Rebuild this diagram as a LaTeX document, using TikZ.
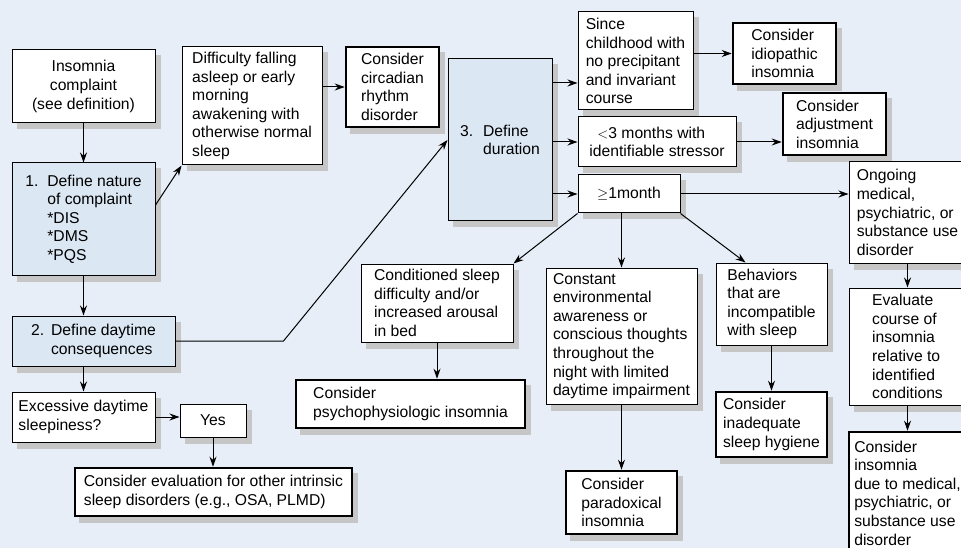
\documentclass[tikz,border=0pt]{standalone}
\usepackage{fontspec}
\setmainfont{Liberation Sans}
\usetikzlibrary{arrows.meta}
\definecolor{bgblue}{RGB}{232,238,247}
\definecolor{stepblue}{RGB}{220,231,244}
\definecolor{shadowgray}{RGB}{198,198,198}
\pgfdeclarelayer{bg}
\pgfsetlayers{bg,main}
\begin{document}
\begin{tikzpicture}[x=1pt,y=-1pt,
  box/.style={draw=black,fill=white,line width=1pt,align=left,inner sep=2pt,
    font=\fontsize{15.7}{18.6}\selectfont},
  boxB/.style={box,fill=stepblue},
  boxC/.style={box,line width=2.6pt},
  wh/.style 2 args={minimum width=#1pt,minimum height=#2pt},
  boxshadow/.style={fill=shadowgray},
  arr/.style={-{Stealth[length=10pt,width=7pt]},line width=1pt}]
\useasboundingbox (0,0) rectangle (961,548);

\node[box,wh={143}{73},align=center] (IC) at (83.5,86.5) {Insomnia\\complaint\\(see definition)};
\node[boxB,wh={143}{112}] (N1) at (83.5,219) {\makebox[22pt][l]{1.}Define nature\\\hspace*{22pt}of complaint\\\hspace*{22pt}*DIS\\\hspace*{22pt}*DMS\\\hspace*{22pt}*PQS};
\node[boxB,wh={163}{50}] (N2) at (93.5,341) {\makebox[20pt][l]{2.}Define daytime\\\hspace*{20pt}consequences};
\node[box,wh={143}{50}] (EDS) at (83.5,417) {Excessive daytime\\sleepiness?};
\node[box,wh={66}{33},align=center] (Y) at (213,420.5) {Yes};
\node[boxC,wh={277}{48}] (CE) at (213.5,492) {Consider evaluation for other intrinsic\\sleep disorders (e.g., OSA, PLMD)};

\node[box,wh={140}{118}] (DF) at (252,106) {Difficulty falling\\asleep or early\\morning\\awakening with\\otherwise normal\\sleep};
\node[boxC,wh={93}{80}] (CC) at (392.5,87) {Consider\\circadian\\rhythm\\disorder};

\node[boxB,wh={104}{162}] (N3) at (500,140) {\makebox[23pt][l]{3.}Define\\\hspace*{23pt}duration};
\node[box,wh={115}{98}] (SC) at (635.5,61) {Since\\childhood with\\no precipitant\\and invariant\\course};
\node[boxC,wh={103}{61}] (CI) at (784.5,53.5) {Consider\\idiopathic\\insomnia};
\node[box,wh={158}{50}] (LT) at (657,142) {\hspace*{8pt}$<$3 months with\\identifiable stressor};
\node[boxC,wh={103}{62}] (CA) at (834.5,124) {Consider\\adjustment\\insomnia};
\node[box,wh={102}{38},align=center] (GE) at (629,194) {$\geq$1month};

\node[box,wh={117}{101}] (OM) at (907.5,212.5) {Ongoing\\medical,\\psychiatric, or\\substance use\\disorder};
\node[box,wh={117}{117}] (EC) at (907.5,346.5) {Evaluate\\course of\\insomnia\\relative to\\identified\\conditions};
\node[boxC,wh={117}{122}] (CM) at (907.5,493) {Consider\\insomnia\\due to medical,\\psychiatric, or\\substance use\\disorder};

\node[box,wh={152}{78}] (CS) at (437,303) {Conditioned sleep\\difficulty and/or\\increased arousal\\in bed};
\node[boxC,wh={229}{48}] (CP) at (410.5,404) {Consider\\psychophysiologic insomnia};
\node[box,wh={151}{136}] (EA) at (621.5,336) {Constant\\environmental\\awareness or\\conscious thoughts\\throughout the\\night with limited\\daytime impairment};
\node[boxC,wh={111}{63}] (CX) at (621.5,502.5) {Consider\\paradoxical\\insomnia};
\node[box,wh={111}{82}] (BI) at (771.5,304) {Behaviors\\that are\\incompatible\\with sleep};
\node[boxC,wh={111}{65}] (CH) at (771.5,424.5) {Consider\\inadequate\\sleep hygiene};

\begin{pgfonlayer}{bg}
\fill[bgblue] (0,0) rectangle (961,548);
\foreach \n in {IC,N1,N2,EDS,Y,CE,DF,CC,N3,SC,CI,LT,CA,GE,OM,EC,CM,CS,CP,EA,CX,BI,CH}
  \fill[boxshadow] ([shift={(5,6)}]\n.north west) rectangle ([shift={(5,6)}]\n.south east);
\end{pgfonlayer}

\draw[arr] (IC.south) -- (IC.south |- N1.north);
\draw[arr] (N1.11) -- (DF.south west);
\draw[arr] (N1.south) -- (N1.south |- N2.north);
\draw[arr] (EDS.north |- N2.south) -- (EDS.north);
\draw[arr] (EDS.east) -- (EDS.east -| Y.west);
\draw[arr] (Y.south) -- (Y.south |- CE.north);
\draw[arr] (DF.east |- CC.west) -- (CC.west);
\draw[arr] (N2.east) -- ++(108,0) -- (N3.west);

\draw[arr] ([yshift=57pt]N3.east) -- ([yshift=57pt]N3.east -| SC.west);
\draw[arr] (N3.east |- LT.west) -- (LT.west);
\draw[arr] (N3.east |- GE.west) -- (GE.west);
\draw[arr] (SC.east |- CI.west) -- (CI.west);
\draw[arr] (LT.east) -- (LT.east -| CA.west);
\draw[arr] (GE.east) -- (GE.east -| OM.west);
\draw[arr] (GE.south west) -- (CS.north east);
\draw[arr] (GE.south -| EA.north) -- (EA.north);
\draw[arr] (GE.south east) -- ([xshift=30pt]BI.north west);

\draw[arr] (CS.south) -- (CS.south |- CP.north);
\draw[arr] (EA.south) -- (CX.north);
\draw[arr] (BI.south) -- (CH.north);
\draw[arr] (OM.south) -- (EC.north);
\draw[arr] (EC.south) -- (CM.north);
\end{tikzpicture}
\end{document}
